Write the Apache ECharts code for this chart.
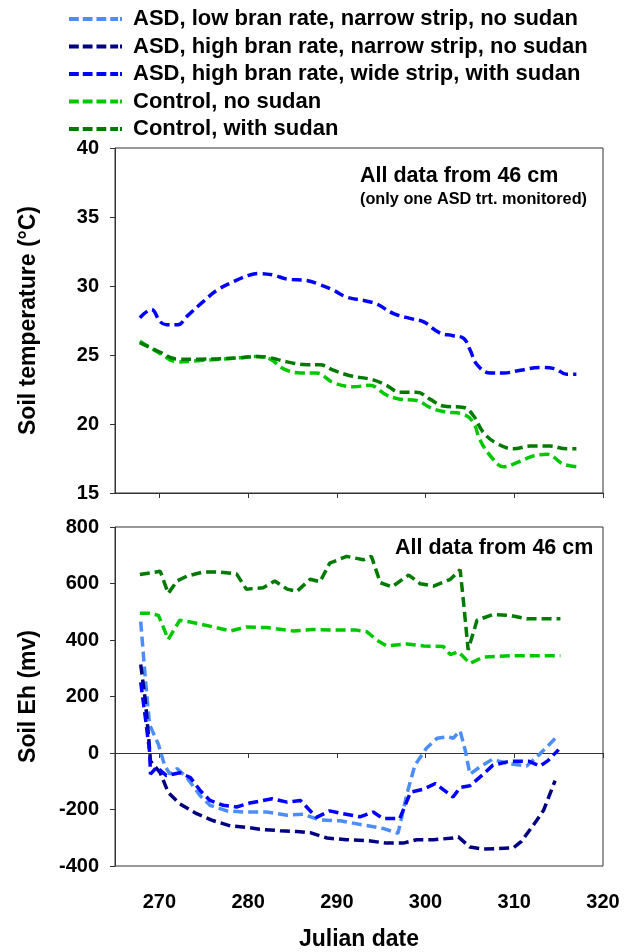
<!DOCTYPE html>
<html>
<head>
<meta charset="utf-8">
<script src="https://cdn.jsdelivr.net/npm/echarts@6/dist/echarts.min.js"></script>
<style>
  html, body { margin: 0; padding: 0; background: #fff; }
  #chart { width: 633px; height: 952px; }
</style>
</head>
<body>
<div id="chart"></div>
<script>
// tick labels
const xTicks = [270, 280, 290, 300, 310, 320];

// names
const nAsdLow = "ASD, low bran rate, narrow strip, no sudan";
const nAsdHigh = "ASD, high bran rate, narrow strip, no sudan";
const nAsdWide = "ASD, high bran rate, wide strip, with sudan";
const nCtrlNo = "Control, no sudan";
const nCtrlSudan = "Control, with sudan";

// soil temperature (deg C) at 46 cm, [julian date, value]
const tempAsdWide = [[267.8,27.7],[269.1,28.3],[270.1,27.4],[270.8,27.2],[272.1,27.2],[273.1,27.8],[275.0,28.9],[276.5,29.7],[278.3,30.3],[280.2,30.8],[281.3,30.9],[282.8,30.8],[284.4,30.5],[286.6,30.4],[288.1,30.1],[289.6,29.7],[291.1,29.2],[293.4,28.9],[294.5,28.7],[296.4,28.0],[298.6,27.6],[299.8,27.4],[301.6,26.6],[303.1,26.4],[304.3,26.2],[305.0,25.4],[305.8,24.3],[307.3,23.7],[308.8,23.7],[310.7,23.9],[312.9,24.1],[314.6,24.0],[315.9,23.6],[317.0,23.6]];
const tempCtrlSudan = [[267.8,25.9],[270.1,25.2],[272.0,24.7],[274.6,24.7],[279.1,24.8],[281.0,24.9],[282.5,24.8],[284.4,24.5],[286.6,24.3],[288.1,24.3],[289.6,23.9],[291.5,23.5],[294.1,23.2],[295.6,22.8],[297.1,22.3],[299.0,22.3],[300.5,21.8],[302.0,21.3],[304.3,21.2],[305.4,20.6],[306.5,19.4],[308.0,18.6],[309.9,18.2],[311.8,18.4],[314.0,18.4],[315.9,18.2],[317.0,18.2]];
const tempCtrlNo = [[267.8,26.0],[270.1,25.1],[272.0,24.5],[274.6,24.6],[279.1,24.8],[281.0,24.9],[282.5,24.7],[284.0,24.0],[285.9,23.7],[287.7,23.7],[289.6,23.0],[291.9,22.7],[293.7,22.8],[295.6,22.1],[297.1,21.8],[299.0,21.7],[300.5,21.2],[302.0,20.9],[304.3,20.7],[305.4,20.1],[306.1,18.9],[307.3,17.7],[308.8,16.9],[310.3,17.2],[312.2,17.7],[313.7,17.8],[315.5,17.1],[317.0,16.9]];

// soil Eh (mv) at 46 cm, [julian date, value]
const ehAsdLow = [[267.9,465],[268.4,270],[268.9,100],[269.9,30],[270.6,-45],[271.2,-75],[272.0,-55],[273.1,-87],[274.6,-151],[275.7,-185],[277.6,-205],[279.5,-209],[282.1,-209],[284.4,-220],[286.2,-217],[288.1,-237],[290.4,-240],[293.0,-255],[295.2,-267],[296.9,-284],[297.9,-145],[298.8,-43],[300.1,17],[301.3,52],[302.6,58],[303.1,52],[303.9,78],[304.5,6],[305.0,-75],[306.1,-50],[307.5,-23],[309.5,-38],[311.4,-46],[312.9,-3],[315.0,64]];
const ehAsdHigh = [[267.9,313],[268.4,190],[268.8,52],[269.0,-29],[270.1,-70],[271.0,-140],[272.3,-180],[274.2,-215],[276.1,-240],[278.0,-258],[279.8,-263],[281.3,-270],[283.6,-275],[285.5,-278],[287.0,-282],[288.9,-301],[291.1,-307],[293.4,-310],[295.6,-319],[297.5,-319],[299.0,-307],[300.9,-307],[303.1,-301],[303.7,-297],[305.0,-333],[306.5,-340],[309.9,-336],[310.8,-313],[312.5,-240],[313.3,-203],[314.6,-98]];
const ehAsdWide = [[267.9,250],[268.4,130],[268.9,5],[269.0,-75],[269.7,-50],[270.8,-80],[272.3,-70],[273.5,-87],[274.6,-133],[275.7,-168],[277.2,-185],[278.7,-191],[280.2,-177],[282.7,-162],[284.4,-174],[285.9,-168],[287.7,-228],[289.2,-205],[290.7,-215],[292.6,-226],[294.1,-209],[295.2,-232],[297.1,-232],[298.3,-139],[299.8,-128],[301.1,-108],[303.1,-156],[303.9,-122],[305.0,-116],[306.5,-75],[307.6,-43],[309.5,-29],[311.6,-29],[312.9,-46],[313.8,-27],[315.0,12]];
const ehCtrlNo = [[267.8,495],[268.9,495],[269.9,487],[271.0,402],[272.3,470],[273.5,464],[276.1,446],[278.0,432],[279.8,446],[282.1,444],[285.1,432],[287.3,437],[289.6,435],[292.2,435],[293.4,429],[294.5,400],[295.6,379],[297.9,386],[299.8,379],[302.0,377],[302.8,348],[303.7,359],[305.0,317],[306.5,340],[309.5,344],[312.2,344],[315.2,344]];
const ehCtrlSudan = [[267.8,632],[269.1,638],[270.1,643],[271.0,565],[272.0,609],[273.1,626],[275.0,641],[276.5,641],[278.7,634],[279.8,580],[281.7,585],[283.0,609],[284.4,580],[285.5,572],[287.0,615],[288.1,606],[289.2,672],[291.1,696],[293.0,684],[293.9,696],[294.9,603],[296.2,588],[298.1,630],[299.4,599],[300.9,591],[302.8,615],[303.9,649],[304.3,528],[304.8,365],[305.8,470],[307.6,490],[309.5,487],[311.4,475],[313.3,475],[315.2,475]];

const colors = {};
colors[nAsdLow] = "#4D8DF7";
colors[nAsdHigh] = "#000080";
colors[nAsdWide] = "#0000FF";
colors[nCtrlNo] = "#00C800";
colors[nCtrlSudan] = "#007A00";

const font = "Liberation Sans, Arial, sans-serif";
const labelStyle = { color: "#000", fontWeight: "bold", fontSize: 20, fontFamily: font };
// dashed legend key: four dashes and a dot
const dashIcon = "path://M0,0h10v4h-10z M14,0h10v4h-10z M28,0h10v4h-10z M42,0h8v4h-8z M52,0h2v4h-2z";

function line(name, data, idx, smooth) {
  return {
    name: name,
    type: "line",
    data: data,
    xAxisIndex: idx,
    yAxisIndex: idx,
    showSymbol: false,
    symbol: "none",
    smooth: smooth,
    color: colors[name],
    lineStyle: { color: colors[name], width: 3.5, type: [10, 5] },
    z: 3
  };
}

function xAxis(idx, labels) {
  return {
    type: "value",
    gridIndex: idx,
    min: 265,
    max: 320,
    axisLine: { show: true, lineStyle: { color: "#333", width: 1 } },
    axisTick: { show: true, length: 5, customValues: xTicks, lineStyle: { color: "#333" } },
    axisLabel: { show: labels, customValues: xTicks, margin: 26, ...labelStyle },
    splitLine: { show: false },
    name: labels ? "Julian date" : "",
    nameLocation: "middle",
    nameGap: 62,
    nameTextStyle: { color: "#000", fontWeight: "bold", fontSize: 23, fontFamily: font }
  };
}

function yAxis(idx, min, max, interval, name) {
  return {
    type: "value",
    gridIndex: idx,
    min: min,
    max: max,
    interval: interval,
    axisLine: { show: true, lineStyle: { color: "#333", width: 1 } },
    axisTick: { show: true, length: 5, lineStyle: { color: "#333" } },
    axisLabel: { margin: 16, ...labelStyle },
    splitLine: { show: false },
    name: name,
    nameLocation: "middle",
    nameGap: 75,
    nameTextStyle: { color: "#000", fontWeight: "bold", fontSize: 23, fontFamily: font }
  };
}

const chart = echarts.init(document.getElementById("chart"));
chart.setOption({
  animation: false,
  backgroundColor: "#fff",
  title: [
    { text: "All data from 46 cm", left: 360, top: 165, padding: 0, textStyle: { fontSize: 21.5, fontWeight: "bold", color: "#000", fontFamily: font } },
    { text: "(only one ASD trt. monitored)", left: 360, top: 192, padding: 0, textStyle: { fontSize: 16.3, fontWeight: "bold", color: "#000", fontFamily: font } },
    { text: "All data from 46 cm", left: 395, top: 537, padding: 0, textStyle: { fontSize: 21.5, fontWeight: "bold", color: "#000", fontFamily: font } }
  ],
  legend: {
    orient: "vertical",
    left: 69,
    top: 8,
    padding: 0,
    icon: dashIcon,
    itemWidth: 53,
    itemHeight: 4,
    itemGap: 5.5,
    data: [nAsdLow, nAsdHigh, nAsdWide, nCtrlNo, nCtrlSudan],
    textStyle: { fontSize: 22, fontWeight: "bold", color: "#000", fontFamily: font, lineHeight: 22, padding: [0, 0, 0, 6] }
  },
  grid: [
    { left: 115, right: 30, top: 148, height: 345, show: true, borderColor: "#333", borderWidth: 1, backgroundColor: "transparent" },
    { left: 115, right: 30, top: 527, height: 343, show: true, borderColor: "#333", borderWidth: 1, backgroundColor: "transparent" }
  ],
  xAxis: [xAxis(0, false), xAxis(1, true)],
  yAxis: [
    yAxis(0, 15, 40, 5, "Soil temperature (\u00B0C)"),
    yAxis(1, -400, 800, 200, "Soil Eh (mv)")
  ],
  series: [
    line(nAsdLow, ehAsdLow, 1, false),
    line(nAsdHigh, ehAsdHigh, 1, false),
    line(nAsdWide, ehAsdWide, 1, false),
    line(nCtrlNo, ehCtrlNo, 1, false),
    line(nCtrlSudan, ehCtrlSudan, 1, false),
    line(nAsdWide, tempAsdWide, 0, 0.4),
    line(nCtrlNo, tempCtrlNo, 0, 0.4),
    line(nCtrlSudan, tempCtrlSudan, 0, 0.4)
  ]
});
</script>
</body>
</html>
